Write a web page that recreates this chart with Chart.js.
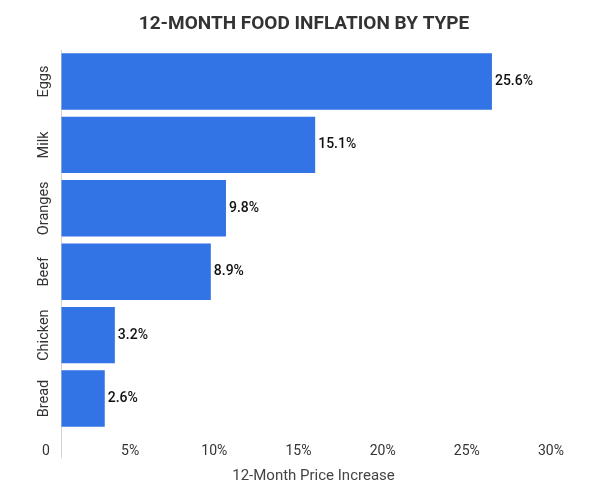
<!DOCTYPE html>
<html>
<head>
<meta charset="utf-8">
<script src="https://cdn.jsdelivr.net/npm/chart.js@4.4.0/dist/chart.umd.min.js"></script>
<style>
  body { margin: 0; background: #fff; }
  #wrap { width: 600px; height: 485px; }
</style>
</head>
<body>
<div id="wrap"><canvas id="bar-chartcanvas"></canvas></div>
<script>
var foods = ["Eggs", "Milk", "Oranges", "Beef", "Chicken", "Bread"];
var increase = [25.6, 15.1, 9.8, 8.9, 3.2, 2.6];
var xTicks = [0, 5, 10, 15, 20, 25, 30];

Chart.defaults.font.family = "Roboto";

// value labels at the end of each bar + rotated category labels
var barLabels = {
    id : "barLabels",
    afterDatasetsDraw : function(chart) {
        var ctx = chart.ctx;
        var meta = chart.getDatasetMeta(0);
        ctx.save();
        ctx.font = "500 14px Roboto";
        ctx.fillStyle = "#111";
        ctx.textAlign = "left";
        ctx.textBaseline = "middle";
        meta.data.forEach(function(bar, i) {
            ctx.fillText(increase[i].toFixed(1) + "%", bar.x + 3, bar.y);
        });
        ctx.restore();

        var yScale = chart.scales.y;
        ctx.save();
        ctx.font = "14.5px Roboto";
        ctx.fillStyle = "#333";
        ctx.textAlign = "center";
        ctx.textBaseline = "middle";
        for (var i = 0; i < foods.length; i++) {
            ctx.save();
            ctx.translate(chart.chartArea.left - 17, yScale.getPixelForTick(i));
            ctx.rotate(-Math.PI / 2);
            ctx.fillText(foods[i], 0, 0);
            ctx.restore();
        }
        ctx.restore();
    }
};

var ctx1 = document.getElementById("bar-chartcanvas");
var chart1 = new Chart(ctx1, {
    type : "bar",
    data : {
        labels : foods,
        datasets : [
            {
                label : "12-Month Price Increase",
                data : increase,
                backgroundColor : "#3273e6",
                borderWidth : 0,
                barPercentage : 0.89,
                categoryPercentage : 1
            }
        ]
    },
    options : {
        indexAxis : "y",
        responsive : true,
        maintainAspectRatio : false,
        animation : false,
        layout : {
            padding : { left : 42, right : 34, top : 0, bottom : 0 }
        },
        plugins : {
            legend : { display : false },
            tooltip : { enabled : false },
            title : {
                display : true,
                text : "12-MONTH FOOD INFLATION BY TYPE",
                color : "#333",
                font : { size : 19, weight : "bold" },
                padding : { top : 13, bottom : 14 }
            }
        },
        scales : {
            x : {
                min : 0,
                max : 30,
                afterBuildTicks : function(axis) {
                    axis.ticks = xTicks.map(function(v) { return { value : v }; });
                },
                grid : {
                    color : function(c) {
                        return (c.tick && c.tick.value === 0) ? "#d3d3d3" : "rgba(0,0,0,0)";
                    },
                    drawTicks : true,
                    tickLength : 28
                },
                border : { display : false },
                ticks : {
                    color : "#333",
                    font : { size : 14 },
                    padding : -15,
                    labelOffset : -15,
                    maxRotation : 0,
                    callback : function(v) { return v === 0 ? "0" : v + "%"; }
                },
                title : {
                    display : true,
                    text : "12-Month Price Increase",
                    color : "#444",
                    font : { size : 15 },
                    padding : { top : 22, bottom : 0 }
                }
            },
            y : {
                grid : { display : false },
                border : { display : false },
                ticks : { display : false },
                afterFit : function(axis) { axis.width = 19; }
            }
        }
    },
    plugins : [barLabels]
});
</script>
</body>
</html>
